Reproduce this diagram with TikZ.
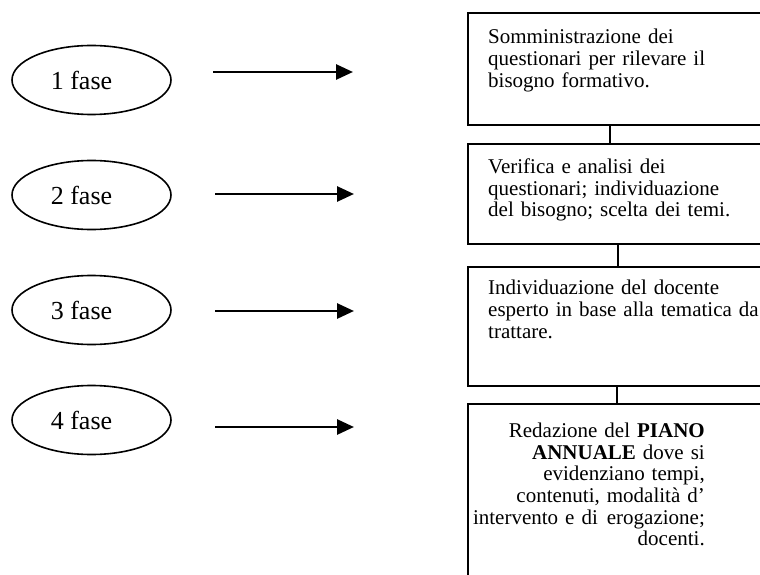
\documentclass[tikz,border=0pt]{standalone}
\usepackage{fontspec}
\setmainfont{Liberation Serif}
\usetikzlibrary{calc,shapes.geometric,arrows.meta}

\tikzset{
	fase/.style={ellipse, draw, line width=1.6pt, minimum width=159pt, minimum height=69pt, inner sep=0pt, font=\fontsize{26}{30}\selectfont},
	frame/.style={draw, line width=2.2pt, minimum width=340pt, anchor=north west, inner sep=0pt},
	boxtext/.style={inner sep=0pt, text width=280pt, align=left, font=\fontsize{21}{21.7}\selectfont},
	link/.style={line width=2.2pt},
	arr/.style={line width=2.8pt, -{Triangle[length=17pt,width=15pt]}}
}

\begin{document}
\begin{tikzpicture}[x=1pt,y=-1pt]
		\useasboundingbox (0,0) rectangle (760,575);
		\clip (0,0) rectangle (760,575);

		\node[fase] (f1) at (91.5,80) {1 fase\hspace*{20pt}};
		\node[fase] (f2) at (91.5,195) {2 fase\hspace*{20pt}};
		\node[fase] (f3) at (91.5,310) {3 fase\hspace*{20pt}};
		\node[fase] (f4) at (91.5,420) {4 fase\hspace*{20pt}};

		\coordinate (s1) at (213,72);
		\coordinate (e1) at (353,72);
		\coordinate (s2) at (215,194);
		\coordinate (e2) at (354,194);
		\coordinate (s3) at (215,311);
		\coordinate (e3) at (354,311);
		\coordinate (s4) at (215,427);
		\coordinate (e4) at (354,427);

		\draw[arr] (s1) -- (e1);
		\draw[arr] (s2) -- (e2);
		\draw[arr] (s3) -- (e3);
		\draw[arr] (s4) -- (e4);

		\node[frame, minimum height=112pt] (b1) at (467,12) {};
		\node[frame, minimum height=100pt] (b2) at (467,143) {};
		\node[frame, minimum height=119pt] (b3) at (467,266) {};
		\node[frame, minimum height=220pt] (b4) at (467,403) {};

		\draw[link] ([xshift=143pt]b1.south west) -- ([xshift=143pt]b2.north west);
		\draw[link] ([xshift=151pt]b2.south west) -- ([xshift=151pt]b3.north west);
		\draw[link] ([xshift=150pt]b3.south west) -- ([xshift=150pt]b4.north west);

		\node[boxtext, anchor=north west] (t1) at ($(b1.north west)+(21,17)$) {Somministrazione dei\\questionari per rilevare il\\bisogno formativo.};
		\node[boxtext, anchor=north west] (t2) at ($(b2.north west)+(21,15.5)$) {Verifica e analisi dei\\questionari; individuazione\\del bisogno; scelta dei temi.};
		\node[boxtext, anchor=north west] (t3) at ($(b3.north west)+(21,14)$) {Individuazione del docente\\esperto in base alla tematica da\\trattare.};
		\node[boxtext, text width=240pt, align=right, anchor=north east, font=\fontsize{21}{21.6}\selectfont] (t4) at ($(b4.north west)+(238,20)$) {Redazione del \textbf{PIANO}\\\textbf{ANNUALE} dove si\\evidenziano tempi,\\contenuti, modalità d’\\intervento e di \hspace{2pt}erogazione;\\docenti.};
	\end{tikzpicture}
\end{document}
